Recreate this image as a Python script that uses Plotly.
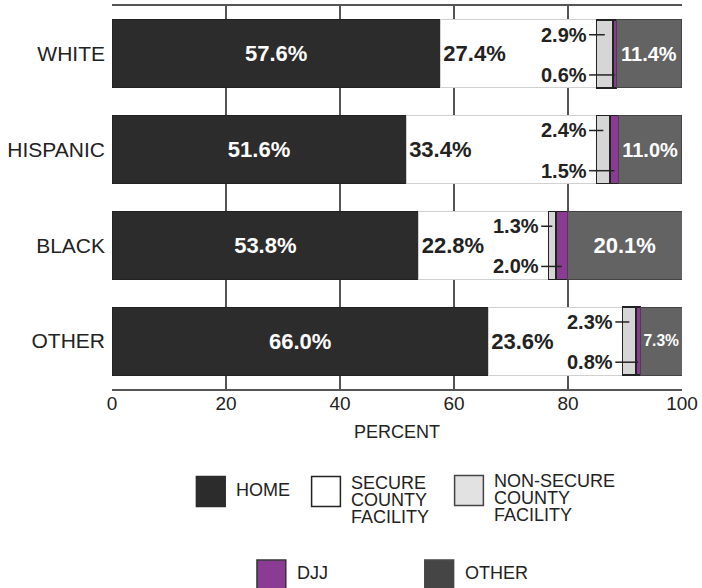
import plotly.graph_objects as go

categories = ["WHITE", "HISPANIC", "BLACK", "OTHER"]
home = [57.6, 51.6, 53.8, 66.0]
secure = [27.4, 33.4, 22.8, 23.6]
nonsecure = [2.9, 2.4, 1.3, 2.3]
djj = [0.6, 1.5, 2.0, 0.8]
other = [11.4, 11.0, 20.1, 7.3]
other_font_sizes = [20, 20, 22, 16]
x_ticks = [0, 20, 40, 60, 80, 100]

series_names = ["HOME", "SECURE COUNTY FACILITY", "NON-SECURE COUNTY FACILITY", "DJJ", "OTHER"]
colors = {"HOME": "#2c2c2c", "SECURE": "#ffffff", "NONSEC": "#d6d6d6",
          "DJJ": "#8c3b95", "OTHER": "#636363"}
FONT = "Liberation Sans, Arial, sans-serif"

def pct(v):
    return [f"{x:.1f}%" for x in v]

fig = go.Figure()
fig.add_bar(y=categories, x=home, orientation="h", name=series_names[0],
            marker=dict(color=colors["HOME"], line=dict(color="#222", width=1)),
            text=pct(home), textposition="inside", insidetextanchor="middle", textangle=0,
            textfont=dict(color="white", size=22, family=FONT, weight="bold"))
fig.add_bar(y=categories, x=secure, orientation="h", name=series_names[1],
            marker=dict(color=colors["SECURE"], line=dict(color="#d0d0d0", width=1)),
            text=pct(secure), textposition="inside", insidetextanchor="start", textangle=0,
            textfont=dict(color="#222", size=22, family=FONT, weight="bold"))
fig.add_bar(y=categories, x=nonsecure, orientation="h", name=series_names[2],
            marker=dict(color=colors["NONSEC"], line=dict(color="#222", width=1.5)),
            textposition="none")
fig.add_bar(y=categories, x=djj, orientation="h", name=series_names[3],
            marker=dict(color=colors["DJJ"], line=dict(color="#222", width=1.5)),
            textposition="none")
fig.add_bar(y=categories, x=other, orientation="h", name=series_names[4],
            marker=dict(color=colors["OTHER"], line=dict(color="#444", width=1)),
            text=pct(other), textposition="inside", insidetextanchor="middle", textangle=0,
            textfont=dict(color="white", size=other_font_sizes, family=FONT, weight="bold"))

# outside labels for the small segments with leader lines
annotations = []
shapes = []
gap = 1.3
for i, cat in enumerate(categories):
    start = home[i] + secure[i]
    y_up = i - 0.2
    y_dn = i + 0.22
    annotations.append(dict(x=start - gap, y=y_up, xref="x", yref="y", text=pct([nonsecure[i]])[0],
                            showarrow=False, xanchor="right", yanchor="middle",
                            font=dict(size=20, color="#222", family=FONT, weight="bold")))
    annotations.append(dict(x=start - gap, y=y_dn, xref="x", yref="y", text=pct([djj[i]])[0],
                            showarrow=False, xanchor="right", yanchor="middle",
                            font=dict(size=20, color="#222", family=FONT, weight="bold")))
    shapes.append(dict(type="line", xref="x", yref="y", x0=start - gap, x1=start + nonsecure[i] / 2,
                       y0=y_up, y1=y_up, line=dict(color="#222", width=1.5), layer="above"))
    shapes.append(dict(type="line", xref="x", yref="y", x0=start - gap,
                       x1=start + nonsecure[i] + djj[i] / 2,
                       y0=y_dn, y1=y_dn, line=dict(color="#222", width=1.5), layer="above"))

# manual legend (pixel positions converted to paper coords)
L, T_, W, H = 112, 4, 574, 385
def px(x):
    return (x - L) / W
def py(y):
    return (T_ + H - y) / H

legend_items = [
    ("HOME", colors["HOME"], "#2c2c2c", 197, 477, ["HOME"], [491]),
    ("SECURE", "#ffffff", "#222", 313, 477, ["SECURE", "COUNTY", "FACILITY"], [483, 500.5, 518]),
    ("NONSEC", "#e2e2e2", "#444", 457, 476, ["NON-SECURE", "COUNTY", "FACILITY"], [481, 498.5, 516]),
    ("DJJ", colors["DJJ"], "#333", 258, 561, ["DJJ"], [574]),
    ("OTHER", "#454545", "#454545", 427, 561, ["OTHER"], [574]),
]
for key, fill, edge, sx, sy, lines, ys in legend_items:
    shapes.append(dict(type="rect", xref="paper", yref="paper",
                       x0=px(sx), x1=px(sx + 29), y0=py(sy), y1=py(sy + 30),
                       fillcolor=fill, line=dict(color=edge, width=1.5)))
    for txt, ty in zip(lines, ys):
        annotations.append(dict(x=px(sx + 38), y=py(ty), xref="paper", yref="paper",
                                text=txt, showarrow=False, xanchor="left", yanchor="middle",
                                font=dict(size=18, color="#222", family=FONT)))

annotations.append(dict(x=0.5, y=py(432), xref="paper", yref="paper", text="PERCENT",
                        showarrow=False, xanchor="center", yanchor="middle",
                        font=dict(size=18, color="#222", family=FONT)))

fig.update_layout(
    barmode="stack",
    bargap=0.29,
    width=702, height=588,
    margin=dict(l=L, r=702 - L - W, t=T_, b=588 - T_ - H, pad=0),
    paper_bgcolor="white", plot_bgcolor="white",
    showlegend=False,
    annotations=annotations,
    shapes=shapes,
    font=dict(family=FONT, color="#222"),
)
fig.update_xaxes(range=[0, 100], tickvals=x_ticks, ticktext=[str(t) for t in x_ticks],
                 showgrid=True, gridcolor="#555", gridwidth=2,
                 showline=True, linecolor="#555", linewidth=2, mirror=True,
                 ticks="", tickfont=dict(size=19, color="#222"), zeroline=False,
                 ticklabelstandoff=-4)
fig.update_yaxes(categoryorder="array", categoryarray=categories, autorange="reversed",
                 showgrid=False, showline=False, ticks="",
                 tickfont=dict(size=21, color="#222"), ticklabelstandoff=6)

fig.write_html("out.html", config={"displayModeBar": False},
               post_script="document.body.style.margin='0';document.body.style.overflow='hidden';")
